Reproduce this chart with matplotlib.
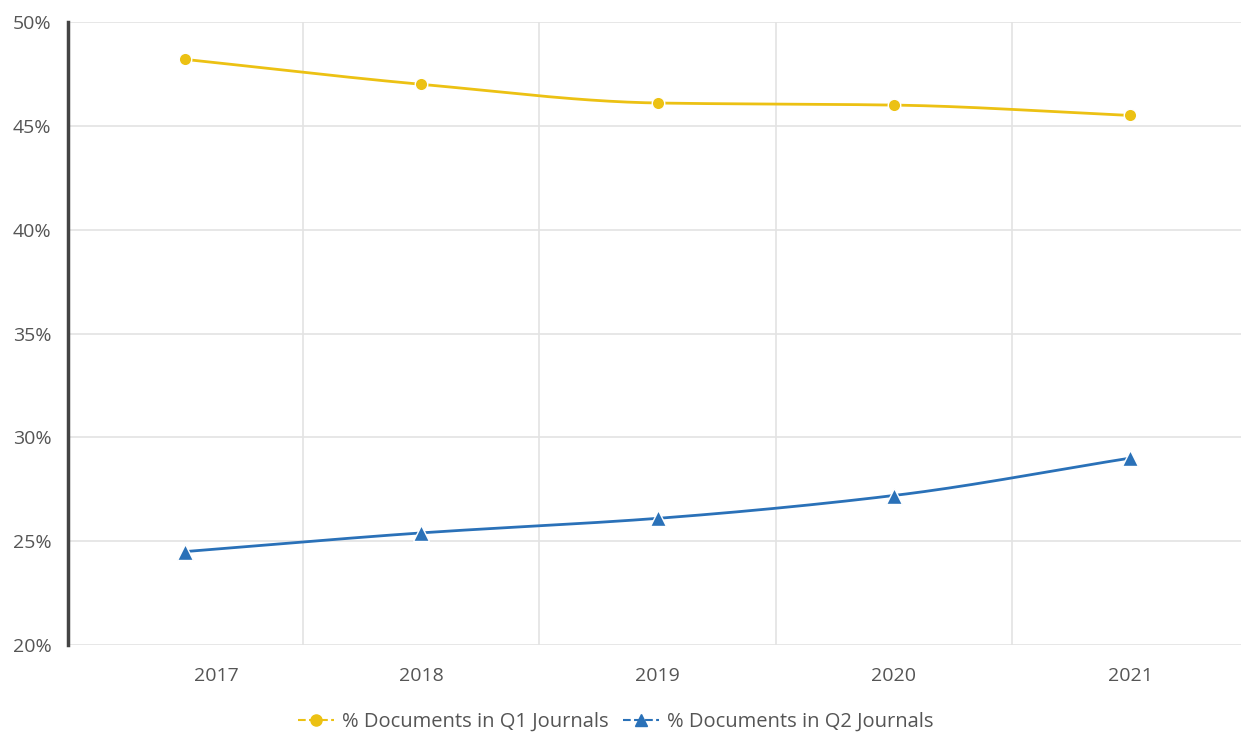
'''
Percentage of documents in Q1 and Q2 journals, 2017-2021
'''

import numpy as np
import matplotlib.pyplot as plt
from matplotlib.ticker import FuncFormatter
from matplotlib.transforms import ScaledTranslation

# dados

YEARS = ["2017", "2018", "2019", "2020", "2021"]
Q1_SHARE = [48.2, 47.0, 46.1, 46.0, 45.5]
Q2_SHARE = [24.5, 25.4, 26.1, 27.2, 29.0]

Y_TICKS = [20, 25, 30, 35, 40, 45, 50]

GOLD = "#ECC113"
BLUE = "#2A71B8"


def monotone_curve(x, y, n=40):
    '''
    Curva suave (Hermite cúbica monotônica) só para desenhar a linha.
    '''
    x = np.asarray(x, dtype=float)
    y = np.asarray(y, dtype=float)
    h = np.diff(x)
    d = np.diff(y) / h
    m = np.zeros_like(y)
    m[0], m[-1] = d[0], d[-1]
    for i in range(1, len(y) - 1):
        if d[i - 1] * d[i] <= 0:
            m[i] = 0
        else:
            m[i] = 2 / (1 / d[i - 1] + 1 / d[i])
    xs, ys = [], []
    for i in range(len(h)):
        t = np.linspace(0, 1, n)
        h00 = 2 * t**3 - 3 * t**2 + 1
        h10 = t**3 - 2 * t**2 + t
        h01 = -2 * t**3 + 3 * t**2
        h11 = t**3 - t**2
        xs.append(x[i] + t * h[i])
        ys.append(h00 * y[i] + h10 * h[i] * m[i] + h01 * y[i + 1] + h11 * h[i] * m[i + 1])
    return np.concatenate(xs), np.concatenate(ys)


if __name__ == "__main__":
    plt.rcParams['font.family'] = ['Open Sans', 'DejaVu Sans']

    fig = plt.figure(figsize=(12.41, 7.36), dpi=100)
    ax = fig.add_axes([0.0548, 0.1236, 0.9452, 0.8465])

    x = np.arange(len(YEARS))

    for values, color, marker, msize, label in [
            (Q1_SHARE, GOLD, "o", 9, "% Documents in Q1 Journals"),
            (Q2_SHARE, BLUE, "^", 11, "% Documents in Q2 Journals")]:
        cx, cy = monotone_curve(x, values)
        ax.plot(cx, cy, color=color, linewidth=2, zorder=3)
        ax.plot(x, values, linestyle="None", marker=marker, markersize=msize,
                color=color, markeredgecolor="white", markeredgewidth=1, zorder=4)
        # entrada da legenda
        ax.plot([], [], color=color, linestyle="--", marker=marker, markersize=8,
                linewidth=1.5, label=label)

    ax.set_xlim(-0.496, 4.47)
    ax.set_ylim(20, 50)
    ax.set_xticks(x)
    ax.set_xticklabels(YEARS)
    ax.set_yticks(Y_TICKS)
    ax.yaxis.set_major_formatter(FuncFormatter(lambda v, p: f"{v:.0f}%"))

    ax.set_xticks(x[:-1] + 0.5, minor=True)
    ax.grid(axis="x", which="minor", color="#E3E3E3", linewidth=1.2)
    ax.grid(axis="y", which="major", color="#E3E3E3", linewidth=1.2)
    ax.set_axisbelow(True)

    for side in ["top", "right", "bottom"]:
        ax.spines[side].set_visible(False)
    ax.spines["left"].set_color("#444444")
    ax.spines["left"].set_linewidth(2.5)

    ax.tick_params(axis="both", which="both", length=0, labelsize=14, colors="#555555")
    ax.tick_params(axis="x", pad=16)
    ax.tick_params(axis="y", pad=12)

    # no original o rótulo de 2017 fica um pouco à direita
    first = ax.get_xticklabels()[0]
    first.set_transform(first.get_transform() + ScaledTranslation(0.31, 0, fig.dpi_scale_trans))

    ax.legend(loc="upper center", bbox_to_anchor=(0.467, -0.078), ncol=2, frameon=False,
              fontsize=14.5, handlelength=1.8, columnspacing=0.7, handletextpad=0.4,
              labelcolor="#555555")

    fig.savefig("out.png", dpi=100)
